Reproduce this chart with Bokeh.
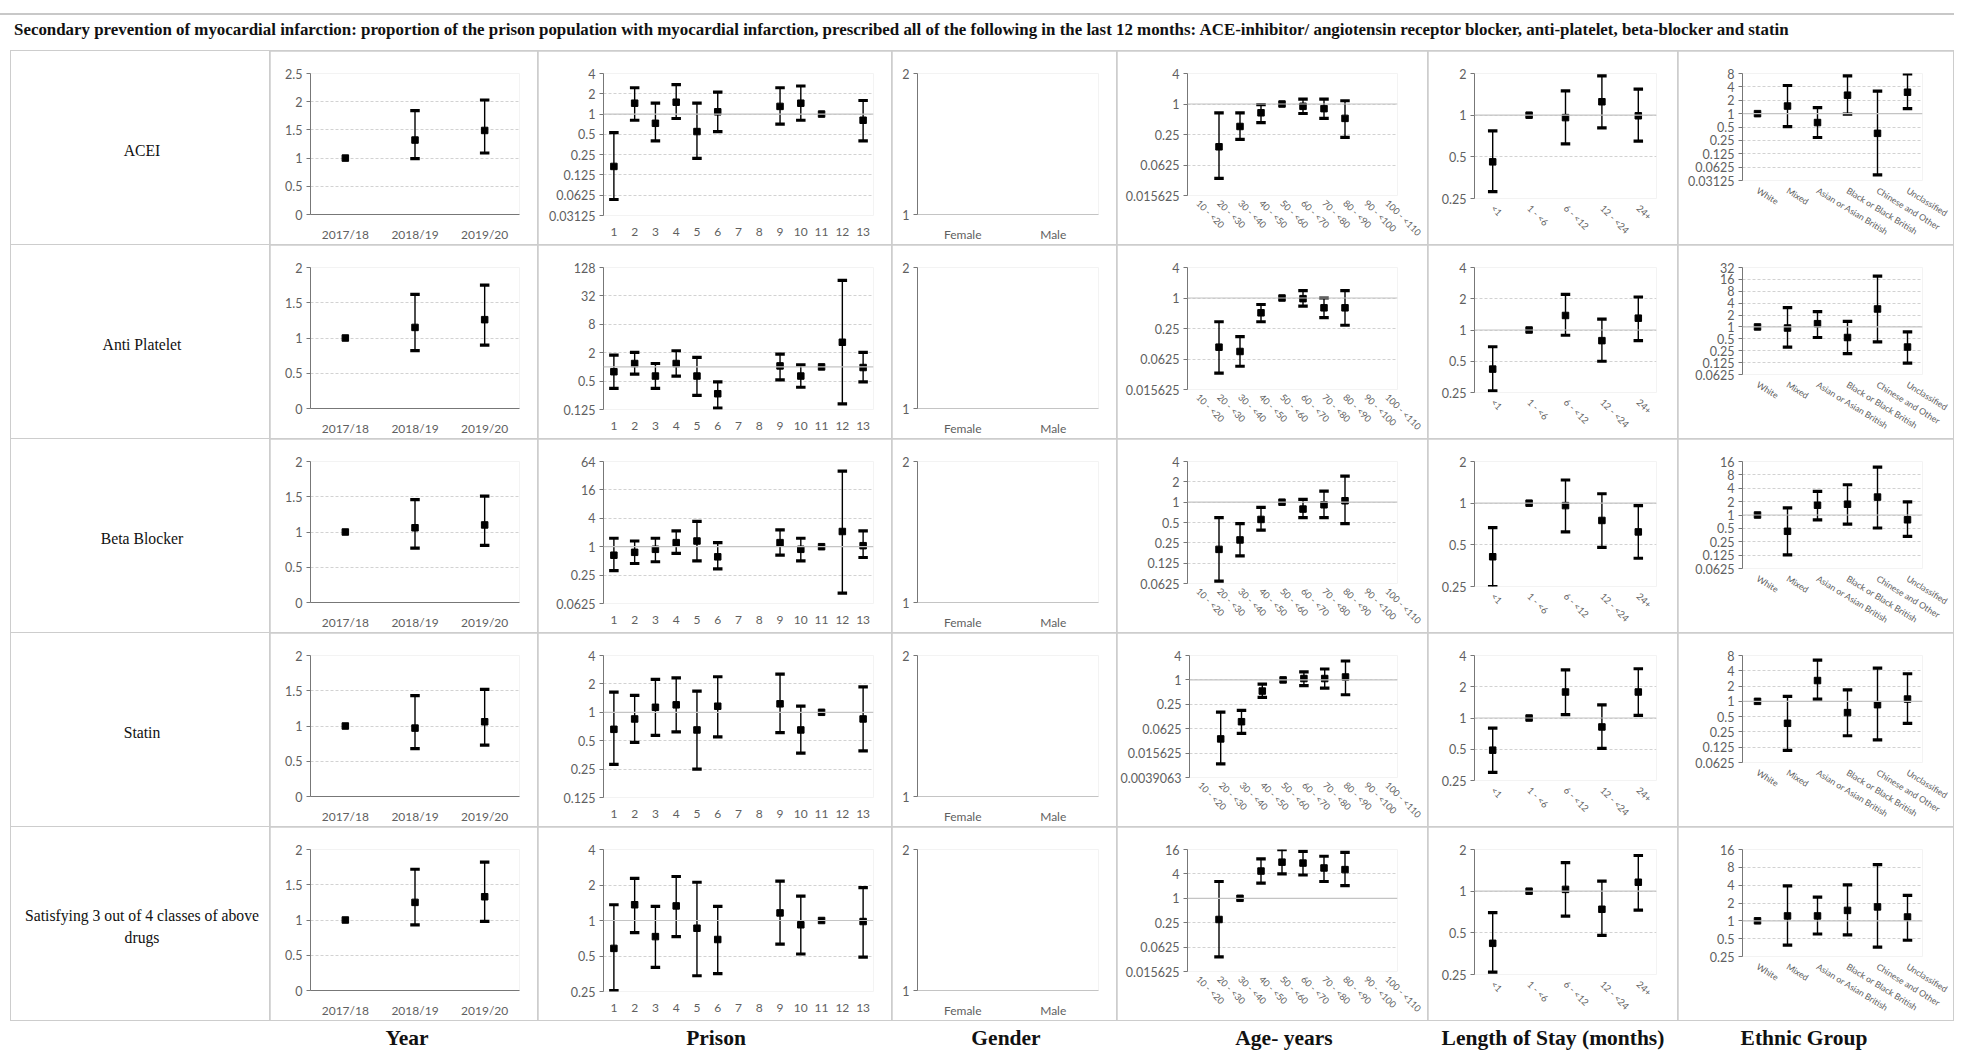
from bokeh.plotting import figure
from bokeh.models import ColumnDataSource, FixedTicker, Range1d, FactorRange, Span, Div, Spacer
from bokeh.layouts import column, row
from bokeh.embed import file_html
from bokeh.resources import INLINE

N = None

TITLE = ("Secondary prevention of myocardial infarction: proportion of the prison population with myocardial "
         "infarction, prescribed all of the following in the last 12 months: ACE-inhibitor/ angiotensin receptor "
         "blocker, anti-platelet, beta-blocker and statin")

OUTCOMES = ["ACEI", "Anti Platelet", "Beta Blocker", "Statin", "Satisfying 3 out of 4 classes of above\ndrugs"]
DIMENSIONS = ["Year", "Prison", "Gender", "Age- years", "Length of Stay (months)", "Ethnic Group"]

YEARS = ["2017/18", "2018/19", "2019/20"]
PRISONS = ["1", "2", "3", "4", "5", "6", "7", "8", "9", "10", "11", "12", "13"]
GENDERS = ["Female", "Male"]
AGES = ["10 - <20", "20 - <30", "30 - <40", "40 - <50", "50 - <60", "60 - <70", "70 - <80", "80 - <90",
        "90 - <100", "100 - <110"]
STAYS = ["<1", "1 - <6", "6 - <12", "12 - <24", "24+"]
ETHNIC = ["White", "Mixed", "Asian or Asian British", "Black or Black British", "Chinese and Other", "Unclassified"]

GENDER_EMPTY = dict(est=[N, N], lo=[N, N], hi=[N, N])

# ---------------- ACEI ----------------
ACEI_YEAR = dict(est=[1.0, 1.32, 1.49], lo=[N, 0.99, 1.09], hi=[N, 1.84, 2.03])
ACEI_PRISON = dict(
    est=[0.167, 1.45, 0.73, 1.50, 0.55, 1.08, N, N, 1.30, 1.45, 1.0, N, 0.81],
    lo=[0.054, 0.81, 0.40, 0.86, 0.22, 0.55, N, N, 0.71, 0.81, N, N, 0.40],
    hi=[0.53, 2.46, 1.45, 2.73, 1.45, 2.12, N, N, 2.46, 2.61, N, N, 1.59])
ACEI_AGE = dict(
    est=[N, 0.143, 0.36, 0.67, 1.0, 0.90, 0.81, 0.52, N, N],
    lo=[N, 0.034, 0.20, 0.43, N, 0.65, 0.52, 0.22, N, N],
    hi=[N, 0.67, 0.67, 0.97, N, 1.25, 1.25, 1.16, N, N])
ACEI_STAY = dict(est=[0.46, 1.0, 0.96, 1.25, 0.99], lo=[0.28, N, 0.62, 0.81, 0.65], hi=[0.77, N, 1.50, 1.92, 1.54])
ACEI_ETHNIC = dict(est=[1.0, 1.48, 0.63, 2.6, 0.36, 3.03], lo=[N, 0.51, 0.29, 0.97, 0.042, 1.29],
                   hi=[N, 4.3, 1.36, 7.1, 3.2, 7.8])

# ---------------- Anti Platelet ----------------
AP_YEAR = dict(est=[1.0, 1.15, 1.26], lo=[N, 0.82, 0.90], hi=[N, 1.62, 1.75])
AP_PRISON = dict(
    est=[0.79, 1.18, 0.64, 1.18, 0.64, 0.27, N, N, 1.05, 0.64, 1.0, 3.33, 0.97],
    lo=[0.35, 0.70, 0.35, 0.64, 0.25, 0.134, N, N, 0.53, 0.37, N, 0.165, 0.48],
    hi=[1.78, 2.03, 1.18, 2.2, 1.59, 0.48, N, N, 1.87, 1.1, N, 68, 2.03])
AP_AGE = dict(
    est=[N, 0.107, 0.088, 0.51, 1.0, 0.97, 0.64, 0.64, N, N],
    lo=[N, 0.033, 0.045, 0.34, N, 0.69, 0.41, 0.29, N, N],
    hi=[N, 0.34, 0.173, 0.745, N, 1.40, 1.0, 1.40, N, N])
AP_STAY = dict(est=[0.42, 1.0, 1.38, 0.79, 1.30], lo=[0.26, N, 0.89, 0.50, 0.79], hi=[0.69, N, 2.2, 1.27, 2.08])
AP_ETHNIC = dict(est=[1.0, 0.94, 1.21, 0.54, 2.85, 0.31], lo=[N, 0.31, 0.54, 0.21, 0.42, 0.122],
                 hi=[N, 3.1, 2.45, 1.38, 19.3, 0.75])

# ---------------- Beta Blocker ----------------
BB_YEAR = dict(est=[1.0, 1.06, 1.10], lo=[N, 0.77, 0.81], hi=[N, 1.46, 1.51])
BB_PRISON = dict(
    est=[0.66, 0.76, 0.88, 1.22, 1.32, 0.61, N, N, 1.22, 0.88, 1.0, 2.1, 1.05],
    lo=[0.31, 0.44, 0.48, 0.72, 0.50, 0.34, N, N, 0.66, 0.50, N, 0.104, 0.59],
    hi=[1.51, 1.32, 1.51, 2.17, 3.45, 1.22, N, N, 2.28, 1.51, N, 40, 2.17])
BB_AGE = dict(
    est=[N, 0.20, 0.276, 0.555, 1.0, 0.79, 0.915, 1.05, N, N],
    lo=[N, 0.068, 0.16, 0.385, N, 0.59, 0.59, 0.48, N, N],
    hi=[N, 0.59, 0.48, 0.84, N, 1.10, 1.46, 2.43, N, N])
BB_STAY = dict(est=[0.41, 1.0, 0.96, 0.75, 0.62], lo=[0.25, N, 0.62, 0.48, 0.40], hi=[0.665, N, 1.47, 1.17, 0.96])
BB_ETHNIC = dict(est=[1.0, 0.43, 1.66, 1.75, 2.53, 0.78], lo=[N, 0.127, 0.78, 0.62, 0.51, 0.33],
                 hi=[N, 1.45, 3.4, 4.8, 12, 1.97])

# ---------------- Statin ----------------
ST_YEAR = dict(est=[1.0, 0.97, 1.06], lo=[N, 0.68, 0.73], hi=[N, 1.43, 1.52])
ST_PRISON = dict(
    est=[0.66, 0.85, 1.13, 1.2, 0.65, 1.16, N, N, 1.23, 0.65, 1.0, N, 0.85],
    lo=[0.28, 0.48, 0.57, 0.62, 0.25, 0.55, N, N, 0.61, 0.37, N, N, 0.39],
    hi=[1.64, 1.51, 2.23, 2.32, 1.68, 2.38, N, N, 2.54, 1.16, N, N, 1.86])
ST_AGE = dict(
    est=[N, 0.035, 0.093, 0.53, 1.0, 1.08, 1.08, 1.18, N, N],
    lo=[N, 0.0085, 0.048, 0.37, N, 0.72, 0.63, 0.43, N, N],
    hi=[N, 0.16, 0.177, 0.79, N, 1.58, 1.86, 2.93, N, N])
ST_STAY = dict(est=[0.49, 1.0, 1.78, 0.82, 1.78], lo=[0.30, N, 1.08, 0.51, 1.06], hi=[0.80, N, 2.91, 1.34, 2.98])
ST_ETHNIC = dict(est=[1.0, 0.37, 2.57, 0.60, 0.86, 1.11], lo=[N, 0.108, 1.11, 0.21, 0.175, 0.37],
                 hi=[N, 1.25, 6.5, 1.68, 4.5, 3.5])

# ---------------- Satisfying 3 of 4 ----------------
S3_YEAR = dict(est=[1.0, 1.25, 1.33], lo=[N, 0.93, 0.98], hi=[N, 1.72, 1.82])
S3_PRISON = dict(
    est=[0.58, 1.36, 0.73, 1.33, 0.86, 0.69, N, N, 1.16, 0.92, 1.0, N, 0.98],
    lo=[0.255, 0.79, 0.40, 0.73, 0.34, 0.355, N, N, 0.63, 0.52, N, N, 0.49],
    hi=[1.36, 2.28, 1.32, 2.36, 2.11, 1.32, N, N, 2.16, 1.61, N, N, 1.90])
S3_AGE = dict(
    est=[N, 0.30, 1.0, 4.7, 7.8, 7.4, 5.6, 5.1, N, N],
    lo=[N, 0.036, N, 2.37, 4.0, 3.76, 2.6, 2.05, N, N],
    hi=[N, 2.6, N, 9.4, 15.8, 14.4, 10.9, 13.6, N, N])
S3_STAY = dict(est=[0.42, 1.0, 1.03, 0.74, 1.16], lo=[0.26, N, 0.66, 0.48, 0.73], hi=[0.70, N, 1.61, 1.18, 1.81])
S3_ETHNIC = dict(est=[1.0, 1.21, 1.21, 1.50, 1.72, 1.16], lo=[N, 0.39, 0.60, 0.58, 0.36, 0.47],
                 hi=[N, 3.88, 2.52, 4.03, 8.9, 2.69])

# ---------------- y-axis ticks ----------------
YEAR_TICKS_A = [0, 0.5, 1, 1.5, 2, 2.5]
YEAR_TICKS = [0, 0.5, 1, 1.5, 2]
GENDER_TICKS = [1, 2]
ACEI_TICKS = [YEAR_TICKS_A, [0.03125, 0.0625, 0.125, 0.25, 0.5, 1, 2, 4], GENDER_TICKS,
              [0.015625, 0.0625, 0.25, 1, 4], [0.25, 0.5, 1, 2],
              [0.03125, 0.0625, 0.125, 0.25, 0.5, 1, 2, 4, 8]]
AP_TICKS = [YEAR_TICKS, [0.125, 0.5, 2, 8, 32, 128], GENDER_TICKS,
            [0.015625, 0.0625, 0.25, 1, 4], [0.25, 0.5, 1, 2, 4],
            [0.0625, 0.125, 0.25, 0.5, 1, 2, 4, 8, 16, 32]]
BB_TICKS = [YEAR_TICKS, [0.0625, 0.25, 1, 4, 16, 64], GENDER_TICKS,
            [0.0625, 0.125, 0.25, 0.5, 1, 2, 4], [0.25, 0.5, 1, 2],
            [0.0625, 0.125, 0.25, 0.5, 1, 2, 4, 8, 16]]
ST_TICKS = [YEAR_TICKS, [0.125, 0.25, 0.5, 1, 2, 4], GENDER_TICKS,
            [0.00390625, 0.015625, 0.0625, 0.25, 1, 4], [0.25, 0.5, 1, 2, 4],
            [0.0625, 0.125, 0.25, 0.5, 1, 2, 4, 8]]
S3_TICKS = [YEAR_TICKS, [0.25, 0.5, 1, 2, 4], GENDER_TICKS,
            [0.015625, 0.0625, 0.25, 1, 4, 16], [0.25, 0.5, 1, 2],
            [0.25, 0.5, 1, 2, 4, 8, 16]]

ROWS = [
    [ACEI_YEAR, ACEI_PRISON, GENDER_EMPTY, ACEI_AGE, ACEI_STAY, ACEI_ETHNIC],
    [AP_YEAR, AP_PRISON, GENDER_EMPTY, AP_AGE, AP_STAY, AP_ETHNIC],
    [BB_YEAR, BB_PRISON, GENDER_EMPTY, BB_AGE, BB_STAY, BB_ETHNIC],
    [ST_YEAR, ST_PRISON, GENDER_EMPTY, ST_AGE, ST_STAY, ST_ETHNIC],
    [S3_YEAR, S3_PRISON, GENDER_EMPTY, S3_AGE, S3_STAY, S3_ETHNIC],
]
ROW_TICKS = [ACEI_TICKS, AP_TICKS, BB_TICKS, ST_TICKS, S3_TICKS]
CATS = [YEARS, PRISONS, GENDERS, AGES, STAYS, ETHNIC]

# ---------------- layout / style ----------------
COL_W = [258, 267, 353, 224, 310, 249, 275]
ROW_H = 193
MARGINS = [(40, 18, 22, 29), (65, 18, 22, 29), (25, 18, 22, 29),
           (70, 30, 22, 46), (46, 21, 22, 46), (64, 31, 22, 64)]
KINDS = ["lin", "log", "gender", "log", "log", "log"]
ORIENT = [0, 0, 0, -0.785, -0.785, -0.55]
XLAB_SIZE = ["12px", "12px", "12px", "9.3px", "9.5px", "8.8px"]
XLAB_STANDOFF = [6, 6, 6, 0, 2, 3]

FONT = "Lato"
TICK_COLOR = "#5f5f5f"
AXIS_COLOR = "#777777"
GRID_COLOR = "#d2d2d2"
ONE_COLOR = "#c4c4c4"
CELL_LINE = "#cdcdcd"
SERIF = "Liberation Serif"


def fmt(v):
    if abs(v - 1 / 256) < 1e-12:
        return "0.0039063"
    return f"{v:.10g}"


def label_cell(text, width):
    html = text.replace("\n", "<br>")
    return Div(text=(f'<div style="width:{width}px;height:{ROW_H}px;display:flex;align-items:center;'
                     f'justify-content:center;text-align:center;background:white;font-family:\'{SERIF}\';'
                     f'font-size:15.7px;line-height:1.35;color:#111;box-sizing:border-box;padding:6px 0 0 4px">'
                     f'<div>{html}</div></div>'),
               width=width, height=ROW_H, margin=0, styles={"background-color": "white"})


def panel(kind, cats, d, ticks, width, margins, orient, xsize, xstand):
    l, r, t, b = margins
    log = kind == "log"
    p = figure(width=width, height=ROW_H, x_range=FactorRange(factors=cats),
               y_range=Range1d(min(ticks), max(ticks)),
               y_axis_type="log" if log else "linear",
               output_backend="svg", toolbar_location=None,
               min_border_left=l, min_border_right=r, min_border_top=t, min_border_bottom=b)
    p.frame_align = False
    p.outline_line_color = None
    p.xgrid.visible = False
    p.ygrid.ticker = FixedTicker(ticks=ticks)
    p.ygrid.grid_line_color = GRID_COLOR
    p.ygrid.grid_line_dash = "3 2"
    p.ygrid.grid_line_width = 1

    ya = p.yaxis[0]
    ya.ticker = FixedTicker(ticks=ticks, minor_ticks=[])
    ya.major_label_overrides = {float(v): fmt(v) for v in ticks}
    ya.axis_line_color = AXIS_COLOR
    ya.major_tick_line_color = AXIS_COLOR
    ya.major_tick_out = 4
    ya.major_tick_in = 0
    ya.minor_tick_line_color = None
    ya.major_label_text_font = FONT
    ya.major_label_text_font_size = "12.5px"
    ya.major_label_text_color = TICK_COLOR
    ya.major_label_standoff = 4

    xa = p.xaxis[0]
    xa.major_tick_line_color = None
    xa.minor_tick_line_color = None
    xa.major_label_text_font = FONT
    xa.major_label_text_font_size = xsize
    xa.major_label_text_color = TICK_COLOR
    xa.major_label_standoff = xstand
    if orient:
        xa.major_label_orientation = orient
    if kind == "lin":
        xa.axis_line_color = AXIS_COLOR
    elif kind == "gender":
        xa.axis_line_color = ONE_COLOR
    else:
        xa.axis_line_color = None
        p.add_layout(Span(location=1, dimension="width", line_color=ONE_COLOR, line_width=1.2))

    idx = [i for i, v in enumerate(d["est"]) if v is not None]
    ci = [i for i in idx if d["lo"][i] is not None]
    if ci:
        csrc = ColumnDataSource(dict(x=[cats[i] for i in ci], lo=[d["lo"][i] for i in ci],
                                     hi=[d["hi"][i] for i in ci]))
        p.segment(x0="x", y0="lo", x1="x", y1="hi", source=csrc, line_color="black", line_width=1.4)
        p.scatter(x="x", y="hi", source=csrc, marker="dash", size=9.5, line_width=3.2, color="black")
        p.scatter(x="x", y="lo", source=csrc, marker="dash", size=9.5, line_width=3.2, color="black")
    if idx:
        src = ColumnDataSource(dict(x=[cats[i] for i in idx], y=[d["est"][i] for i in idx]))
        p.scatter(x="x", y="y", source=src, marker="square", size=6.5, color="black")
    return p


row_layouts = []
for r, name in enumerate(OUTCOMES):
    cells = [label_cell(name, COL_W[0])]
    for c in range(6):
        cells.append(panel(KINDS[c], CATS[c], ROWS[r][c], ROW_TICKS[r][c], COL_W[c + 1], MARGINS[c],
                           ORIENT[c], XLAB_SIZE[c], XLAB_STANDOFF[c]))
    row_layouts.append(row(*cells, spacing=1, styles={"background-color": CELL_LINE}))

grid = column(*row_layouts, spacing=1, styles={"background-color": CELL_LINE, "padding": "1px"})

TOTAL_W = sum(COL_W) + 8
top = Div(text=(
    f'<div style="position:relative;width:{TOTAL_W}px;height:50px;">'
    f'<div style="position:absolute;top:13px;left:-10px;width:{TOTAL_W + 10}px;border-top:2px solid #c8c8c8"></div>'
    f'<div style="position:absolute;top:18px;left:4px;white-space:nowrap;font-family:\'{SERIF}\';'
    f'font-weight:bold;font-size:16.9px;color:#111">{TITLE}</div></div>'),
    width=TOTAL_W, height=50, margin=0)

CENTERS = [407, 716, 1006, 1284, 1553, 1804]
spans = "".join(
    f'<div style="position:absolute;top:4px;left:{cx - 10 - 170}px;width:340px;text-align:center;'
    f'font-family:\'{SERIF}\';font-weight:bold;font-size:21.5px;line-height:26px;color:#111">{lab}</div>'
    for cx, lab in zip(CENTERS, DIMENSIONS))
bottom = Div(text=f'<div style="position:relative;width:{TOTAL_W}px;height:30px;">{spans}</div>',
             width=TOTAL_W, height=30, margin=0)

layout = row(Spacer(width=10, height=10, margin=0), column(top, grid, bottom, spacing=0), spacing=0)
open("out.html", "w").write(file_html(layout, INLINE))
